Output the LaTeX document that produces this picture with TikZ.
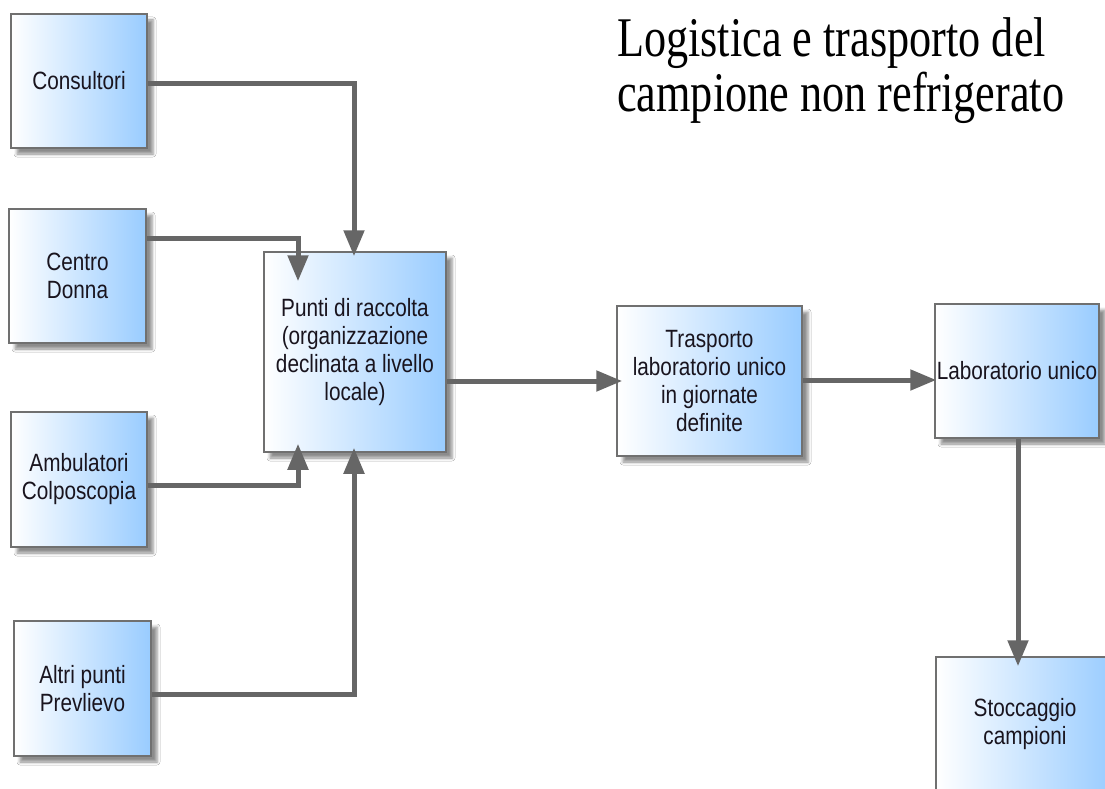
\documentclass[tikz,border=0pt]{standalone}
\usepackage{fontspec}
\setmainfont{Liberation Serif}
\newfontfamily\boxfont{Liberation Sans}[FakeStretch=0.83]
\newfontfamily\titlefont{Liberation Serif}[FakeStretch=0.79]
\usetikzlibrary{arrows.meta,shadows.blur}
\definecolor{boxblue}{RGB}{153,204,255}
\definecolor{edgegray}{RGB}{112,112,112}
\definecolor{linkgray}{RGB}{102,102,102}
\definecolor{inkdark}{RGB}{25,20,30}
\tikzset{
  stepbox/.style={draw=edgegray, line width=1.5pt,
    left color=white, right color=boxblue,
    inner sep=0pt, align=center, text=inkdark,
    font=\boxfont\fontsize{25}{28}\selectfont,
    blur shadow={shadow xshift=6pt, shadow yshift=-6pt,
      shadow blur radius=3pt, shadow opacity=45}},
  link/.style={draw=linkgray, line width=5pt,
    -{Triangle[length=26pt,width=20pt]}},
}
\begin{document}
\begin{tikzpicture}[x=1pt,y=-1pt]
\useasboundingbox (0,0) rectangle (1105,789);
\fill[white] (0,0) rectangle (1105,789);
\clip (0,0) rectangle (1105,789);

% title
\node[anchor=north west, inner sep=0pt, align=left, text=black,
      font=\titlefont\fontsize{56}{55}\selectfont] (title) at (617,17)
  {Logistica e trasporto del\\campione non refrigerato};

% source points
\node[stepbox, minimum width=136pt, minimum height=134pt] (cons) at (79,81) {Consultori};
\node[stepbox, minimum width=137pt, minimum height=134pt] (cdon) at (77.5,276) {Centro\\Donna};
\node[stepbox, minimum width=136pt, minimum height=135pt] (amb) at (79,479.5) {Ambulatori\\Colposcopia};
\node[stepbox, minimum width=137pt, minimum height=135pt] (altri) at (82.5,688.5) {Altri punti\\Prevlievo};

% collection and downstream chain
\node[stepbox, minimum width=182pt, minimum height=200pt] (punti) at (355,352)
  {Punti di raccolta\\(organizzazione\\declinata a livello\\locale)};
\node[stepbox, minimum width=185pt, minimum height=150pt] (tras) at (709.5,381)
  {Trasporto\\laboratorio unico\\in giornate\\definite};
\node[stepbox, minimum width=164pt, minimum height=134pt] (lab) at (1017,371) {Laboratorio unico};
\node[stepbox, minimum width=178pt, minimum height=134pt] (stoc) at (1025,724) {Stoccaggio\\campioni};

% connectors into the collection point
\draw[link, shorten >=-5pt] ([yshift=-3pt]cons.east) -| ([xshift=-1pt]punti.north);
\draw[link, shorten >=-30pt] ([yshift=38pt]cdon.east) -| ([xshift=-57pt]punti.north);
\draw[link, shorten >=-9pt] ([yshift=-5.5pt]amb.east) -| ([xshift=-57pt]punti.south);
\draw[link, shorten >=-5pt] ([yshift=-5.5pt]altri.east) -| ([xshift=-1pt]punti.south);

% chain
\draw[link, shorten >=-6pt] (punti.east |- tras.west) -- (tras.west);
\draw[link, shorten >=-2pt] ([yshift=1pt]tras.east) -- ([yshift=1pt]lab.west |- tras.east);
\draw[link, shorten >=-10pt] ([xshift=1pt]lab.south) -- ([xshift=1pt]lab.south |- stoc.north);
\end{tikzpicture}
\end{document}
